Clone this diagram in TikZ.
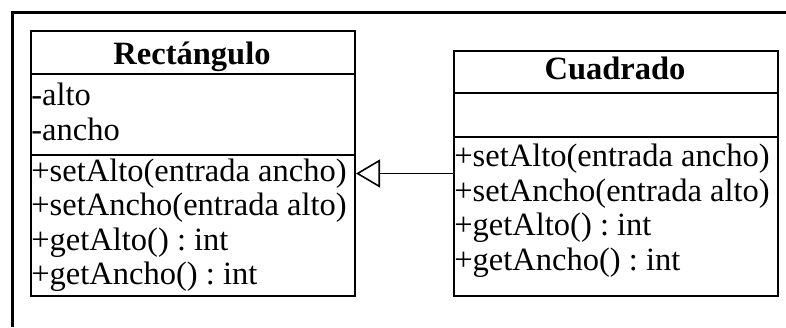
\documentclass[tikz,border=0pt]{standalone}
\usepackage{fontspec}
\setmainfont{Liberation Serif}
\frenchspacing
\usetikzlibrary{arrows.meta}
\begin{document}
\begin{tikzpicture}[x=0.5pt,y=-0.5pt,
  frame/.style={line width=1.5pt},
  classbox/.style={draw, line width=1pt, rectangle, inner sep=0pt, anchor=north west},
  divider/.style={line width=1pt},
  member/.style={anchor=base west, inner sep=0pt, font=\fontsize{16.25}{19}\selectfont\frenchspacing},
  classname/.style={anchor=base, inner sep=0pt, font=\fontsize{16.25}{19}\selectfont\bfseries},
  inherit/.style={line width=0.8pt, -{Triangle[open,length=12pt,width=14pt,line width=0.8pt]}}]
  \useasboundingbox (0,0) rectangle (786,327);
  % open frame around the diagram
  \draw[frame] (12,327) -- (12,12) -- (786,12);

  % class boxes
  \node[classbox, minimum width=162pt, minimum height=132.5pt] (rect) at (30,30) {};
  \node[classbox, minimum width=162pt, minimum height=122.5pt] (cuad) at (453,50) {};

  % compartment dividers
  \draw[divider] ([yshift=-22pt]rect.north west) -- ([yshift=-22pt]rect.north east);
  \draw[divider] ([yshift=-62.5pt]rect.north west) -- ([yshift=-62.5pt]rect.north east);
  \draw[divider] ([yshift=-21.5pt]cuad.north west) -- ([yshift=-21.5pt]cuad.north east);
  \draw[divider] ([yshift=-43.5pt]cuad.north west) -- ([yshift=-43.5pt]cuad.north east);

  % Rectángulo
  \node[classname] (rtitle) at (192,64) {Rectángulo};
  \node[member] (ra1) at (31,105) {-alto};
  \node[member] (ra2) at (31,140.5) {-ancho};
  \node[member] (rm1) at (31,181) {+setAlto(entrada ancho)};
  \node[member] (rm2) at (31,215.5) {+setAncho(entrada alto)};
  \node[member] (rm3) at (31,250) {+getAlto() : int};
  \node[member] (rm4) at (31,284.5) {+getAncho() : int};

  % Cuadrado
  \node[classname] (ctitle) at (615,79.5) {Cuadrado};
  \node[member] (cm1) at (454,166) {+setAlto(entrada ancho)};
  \node[member] (cm2) at (454,201) {+setAncho(entrada alto)};
  \node[member] (cm3) at (454,235.5) {+getAlto() : int};
  \node[member] (cm4) at (454,270) {+getAncho() : int};

  % generalisation
  \draw[inherit] (cuad.west) -- (cuad.west -| rect.east);
\end{tikzpicture}
\end{document}
